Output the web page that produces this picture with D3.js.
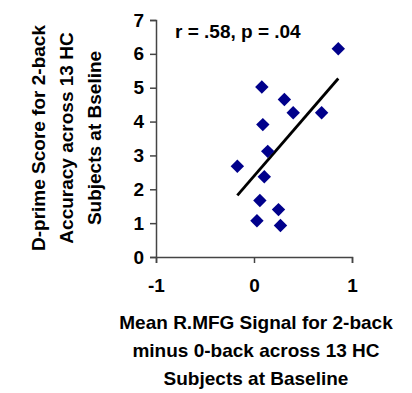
<!DOCTYPE html>
<html>
<head>
<meta charset="utf-8">
<script src="https://cdn.jsdelivr.net/npm/d3@7"></script>
<style>
  body { margin: 0; background: #fff; }
  svg text { font-family: "Liberation Sans", Arial, sans-serif; font-weight: bold; fill: #000; }
</style>
</head>
<body>
<svg width="412" height="393"></svg>
<script>
// Mean R.MFG signal (2-back minus 0-back) vs D-prime, 13 HC subjects
const signal = [0.86, 0.08, 0.31, 0.40, 0.69, 0.09, 0.14, -0.17, 0.105, 0.06, 0.25, 0.03, 0.27];
const dprime = [6.15, 5.02, 4.65, 4.26, 4.26, 3.91, 3.12, 2.68, 2.37, 1.67, 1.40, 1.07, 0.93];
const xTicks = [-1, 0, 1];
const yTicks = [0, 1, 2, 3, 4, 5, 6, 7];
const stat = "r = .58, p = .04";
const xTitle = ["Mean R.MFG Signal for 2-back", "minus 0-back across 13 HC", "Subjects at Baseline"];
const yTitle = ["D-prime Score for 2-back", "Accuracy across 13 HC", "Subjects at Bseline"];

const svg = d3.select("svg");
const x = d3.scaleLinear().domain([-1, 1]).range([156, 352]);
const y = d3.scaleLinear().domain([0, 7]).range([257, 20]);

const points = signal.map((v, i) => ({ x: v, y: dprime[i] }));

// axes
const axisColor = "#444";
const gx = svg.append("g")
  .attr("transform", `translate(0,${y(0)})`)
  .call(d3.axisBottom(x).tickValues(xTicks).tickSize(6).tickPadding(16)
    .tickFormat(d => d < 0 ? "-" + Math.abs(d) : d));
const gy = svg.append("g")
  .attr("transform", `translate(${x(-1)},0)`)
  .call(d3.axisLeft(y).tickValues(yTicks).tickSize(6).tickPadding(6).tickFormat(d3.format("d")));
[gx, gy].forEach(g => {
  g.selectAll("path").attr("stroke", axisColor).attr("stroke-width", 1.5);
  g.selectAll("line").attr("stroke", axisColor).attr("stroke-width", 1.5);
  g.selectAll("text").style("font-size", "19px").style("font-family", "Liberation Sans, Arial, sans-serif")
    .style("font-weight", "bold").attr("fill", "#000");
});

// regression line
const mx = d3.mean(points, d => d.x), my = d3.mean(points, d => d.y);
const slope = d3.sum(points, d => (d.x - mx) * (d.y - my)) / d3.sum(points, d => (d.x - mx) ** 2);
const [x0, x1] = d3.extent(points, d => d.x);
svg.append("line")
  .attr("x1", x(x0)).attr("y1", y(my + slope * (x0 - mx)))
  .attr("x2", x(x1)).attr("y2", y(my + slope * (x1 - mx)))
  .attr("stroke", "#000").attr("stroke-width", 2.8);

// diamonds
svg.append("g").selectAll("path")
  .data(points)
  .join("path")
  .attr("transform", d => `translate(${x(d.x)},${y(d.y)}) rotate(45)`)
  .attr("d", d3.symbol(d3.symbolSquare, 90))
  .attr("fill", "#00008b");

svg.append("text")
  .attr("x", 175).attr("y", 38)
  .style("font-size", "19px")
  .text(stat);

// axis titles
svg.append("text")
  .attr("text-anchor", "middle")
  .style("font-size", "19px")
  .selectAll("tspan")
  .data(xTitle)
  .join("tspan")
  .attr("x", 256)
  .attr("y", (d, i) => 329 + i * 28)
  .text(d => d);

svg.append("text")
  .attr("text-anchor", "middle")
  .attr("transform", "rotate(-90)")
  .style("font-size", "19px")
  .selectAll("tspan")
  .data(yTitle)
  .join("tspan")
  .attr("x", -138)
  .attr("y", (d, i) => 45 + i * 28)
  .text(d => d);
</script>
</body>
</html>
